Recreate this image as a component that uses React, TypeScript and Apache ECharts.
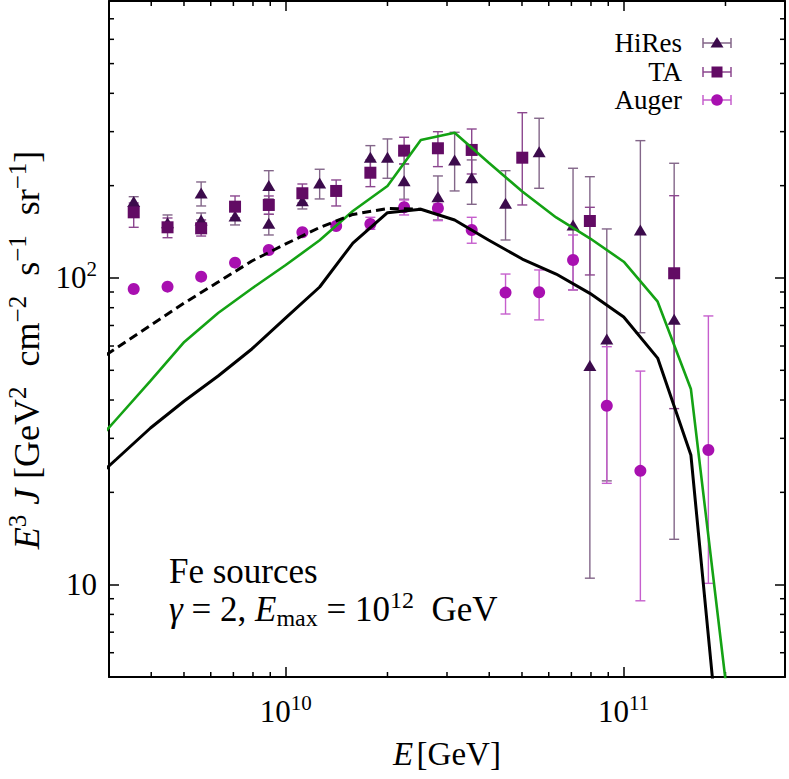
import React, { useEffect, useRef } from "react";
import * as echarts from "echarts";

// ---- axis ranges ----
const xMin = 3e9;
const xMax = 3e11;
const yMin = 5;
const yMax = 800;

// ---- minor tick positions (log axes) ----
const xMinorTicks = [4e9, 5e9, 6e9, 7e9, 8e9, 9e9, 2e10, 3e10, 4e10, 5e10, 6e10, 7e10, 8e10, 9e10, 2e11];
const yMinorTicks = [6, 7, 8, 9, 20, 30, 40, 50, 60, 70, 80, 90, 200, 300, 400, 500, 600, 700];

// ---- HiRes data (E in GeV, E^3 J) ----
const hiresE = [3.55e9, 4.47e9, 5.62e9, 5.62e9, 7.08e9, 8.91e9, 8.91e9, 1.12e10, 1.26e10, 1.78e10, 2.0e10, 2.24e10, 2.82e10, 3.16e10, 3.55e10, 4.47e10, 5.62e10, 7.08e10, 7.94e10, 8.91e10, 1.12e11, 1.41e11];
const hiresJ = [177.4, 151.4, 189.3, 154.6, 159.3, 200.3, 150.7, 178.7, 204.0, 247.5, 247.5, 207.6, 184.1, 242.6, 212.3, 175.2, 258.1, 148.9, 51.8, 63.3, 143.4, 73.3];
const hiresLo = [170.4, 143.4, 171.7, 146.7, 148.9, 181.0, 138.1, 167.9, 181.0, 225.0, 211.4, 180.6, 154.6, 192.2, 173.9, 133.0, 196.1, 91.4, 10.5, 21.8, 66.3, 14.06];
const hiresHi = [184.1, 160.5, 205.6, 162.9, 170.4, 223.8, 161.3, 190.8, 226.2, 270.1, 284.0, 235.4, 215.1, 298.6, 242.6, 223.8, 331.7, 227.9, 213.9, 144.5, 280.4, 236.6];

// ---- TA data ----
const taE = [3.55e9, 4.47e9, 5.62e9, 7.08e9, 8.91e9, 1.12e10, 1.41e10, 1.78e10, 2.24e10, 2.82e10, 3.55e10, 5.01e10, 7.94e10, 1.41e11];
const taJ = [163.7, 146.3, 145.2, 170.8, 173.0, 188.9, 192.2, 220.4, 260.1, 264.8, 261.5, 246.7, 153.4, 103.6];
const taLo = [146.3, 135.3, 137.0, 156.9, 161.3, 175.6, 171.7, 198.5, 235.4, 230.7, 218.3, 173.0, 102.3, 37.5];
const taHi = [175.6, 156.9, 154.6, 185.1, 185.1, 202.5, 208.7, 242.6, 287.6, 299.9, 306.0, 345.9, 170.0, 185.5];

// ---- Auger data ----
const augerE = [3.55e9, 4.47e9, 5.62e9, 7.08e9, 8.91e9, 1.12e10, 1.41e10, 1.78e10, 2.24e10, 2.82e10, 3.55e10, 4.47e10, 5.62e10, 7.08e10, 8.91e10, 1.12e11, 1.78e11];
const augerJ = [92.1, 93.7, 101.0, 112.2, 123.4, 140.9, 147.7, 150.0, 170.0, 168.7, 143.4, 89.6, 89.8, 114.5, 38.3, 23.5, 27.5];
const augerLo = [90.6, 92.2, 99.5, 110.5, 121.5, 138.8, 145.2, 144.1, 160.5, 153.8, 129.8, 76.3, 73.0, 91.4, 21.4, 8.86, 10.1];
const augerHi = [93.6, 95.2, 102.5, 113.9, 125.3, 143.0, 150.2, 157.7, 179.6, 174.3, 157.7, 103.0, 106.2, 138.1, 59.7, 49.7, 75.2];

// ---- model curves ----
const modelE = [2.51e9, 3.16e9, 3.98e9, 5.01e9, 6.31e9, 7.94e9, 1.0e10, 1.26e10, 1.58e10, 2.0e10, 2.51e10, 3.16e10, 3.98e10, 5.01e10, 6.31e10, 7.94e10, 1.0e11, 1.26e11, 1.58e11, 2.0e11];
const modelBlack = [20.4, 25.69, 32.42, 39.72, 47.91, 58.68, 74.07, 93.46, 130.0, 163.3, 167.5, 154.6, 133.0, 115.3, 103.0, 89.1, 74.6, 54.8, 26.48, 1.8];
const modelGreen = [26.09, 34.69, 46.15, 61.85, 76.9, 92.4, 110.2, 132.7, 165.4, 199.5, 281.8, 297.7, 237.9, 191.4, 157.5, 134.7, 113.0, 83.7, 43.47, 4.89];
const dashedE = [2.51e9, 3.16e9, 3.98e9, 5.01e9, 6.31e9, 7.94e9, 1.0e10, 1.26e10, 1.58e10, 2.0e10, 2.51e10];
const modelDashed = [50.1, 59.1, 70.0, 82.9, 97.0, 113.6, 129.1, 146.1, 161.1, 168.5, 167.5];

// ---- labels ----
const legendNames = ["HiRes", "TA", "Auger"];

const FONT = "Liberation Serif";

const C_HIRES = "#3c0b4c";
const C_HIRES_BAR = "#836689";
const C_TA = "#620b64";
const C_TA_BAR = "#8c478f";
const C_AUGER = "#a810b0";
const C_AUGER_BAR = "#c65fcd";
const C_GREEN = "#14a214";

const tickRich = {
  b: { fontFamily: FONT, fontSize: 31, lineHeight: 38, color: "#000" },
  s: { fontFamily: FONT, fontSize: 21, lineHeight: 26, verticalAlign: "top", color: "#000" },
};

const xNameRich = {
  b: { fontFamily: FONT, fontSize: 33, lineHeight: 40, color: "#000" },
  i: { fontFamily: FONT, fontSize: 33, lineHeight: 40, fontStyle: "italic", color: "#000" },
};

const yNameRich = {
  b: { fontFamily: FONT, fontSize: 36, lineHeight: 44, color: "#000" },
  i: { fontFamily: FONT, fontSize: 36, lineHeight: 44, fontStyle: "italic", color: "#000" },
  s: { fontFamily: FONT, fontSize: 25, lineHeight: 30, verticalAlign: "top", color: "#000" },
  g: { fontFamily: FONT, fontSize: 36, lineHeight: 44, width: 20, color: "#000" },
  h: { fontFamily: FONT, fontSize: 36, lineHeight: 44, width: 10, color: "#000" },
};

const annRich = {
  b: { fontFamily: FONT, fontSize: 35, lineHeight: 42, color: "#000" },
  i: { fontFamily: FONT, fontSize: 35, lineHeight: 42, fontStyle: "italic", color: "#000" },
  s: { fontFamily: FONT, fontSize: 24, lineHeight: 28, verticalAlign: "top", color: "#000" },
  d: { fontFamily: FONT, fontSize: 24, lineHeight: 32, verticalAlign: "bottom", color: "#000" },
};

function powLabel(v: number, showBase10: boolean) {
  const lg = Math.log10(v);
  const e = Math.round(lg);
  if (Math.abs(lg - e) > 1e-6) return "";
  if (e === 1 && showBase10) return "{b|10}";
  return "{b|10}{s|" + e + "}";
}

function errorSeries(E: number[], lo: number[], hi: number[], color: string) {
  return {
    type: "custom",
    silent: true,
    xAxisIndex: 0,
    yAxisIndex: 0,
    encode: { x: 0, y: [1, 2] },
    data: E.map((e, i) => [e, lo[i], hi[i]]),
    renderItem: (_params: any, api: any) => {
      const x = api.value(0);
      const p1 = api.coord([x, api.value(1)]);
      const p2 = api.coord([x, api.value(2)]);
      const w = 5;
      const st = { stroke: color, lineWidth: 1.4, fill: "none" };
      return {
        type: "group",
        children: [
          { type: "line", shape: { x1: p1[0], y1: p1[1], x2: p2[0], y2: p2[1] }, style: st },
          { type: "line", shape: { x1: p1[0] - w, y1: p1[1], x2: p1[0] + w, y2: p1[1] }, style: st },
          { type: "line", shape: { x1: p2[0] - w, y1: p2[1], x2: p2[0] + w, y2: p2[1] }, style: st },
        ],
      };
    },
  };
}

function legendGraphic() {
  const rows = [
    { y: 43, color: C_HIRES, bar: C_HIRES_BAR, shape: "triangle" },
    { y: 72, color: C_TA, bar: C_TA_BAR, shape: "rect" },
    { y: 100, color: C_AUGER, bar: C_AUGER_BAR, shape: "circle" },
  ];
  const out: any[] = [];
  rows.forEach((r, i) => {
    out.push({
      type: "text",
      x: 682,
      y: r.y,
      z: 100,
      style: { text: legendNames[i], fontFamily: FONT, fontSize: 27, fill: "#000", align: "right", verticalAlign: "middle" },
    });
    const st = { stroke: r.bar, lineWidth: 1.5 };
    out.push({ type: "line", z: 100, shape: { x1: 703, y1: r.y, x2: 731, y2: r.y }, style: st });
    out.push({ type: "line", z: 100, shape: { x1: 703, y1: r.y - 5, x2: 703, y2: r.y + 5 }, style: st });
    out.push({ type: "line", z: 100, shape: { x1: 731, y1: r.y - 5, x2: 731, y2: r.y + 5 }, style: st });
    if (r.shape === "triangle") {
      out.push({ type: "polygon", z: 101, shape: { points: [[717, r.y - 6], [723.5, r.y + 4.5], [710.5, r.y + 4.5]] }, style: { fill: r.color } });
    } else if (r.shape === "rect") {
      out.push({ type: "rect", z: 101, shape: { x: 711.5, y: r.y - 5.5, width: 11, height: 11 }, style: { fill: r.color } });
    } else {
      out.push({ type: "circle", z: 101, shape: { cx: 717, cy: r.y, r: 5.8 }, style: { fill: r.color } });
    }
  });
  return out;
}

function buildOption() {
  const axisLine = { onZero: false, lineStyle: { color: "#000", width: 2 } };
  const axisTick = { inside: true, length: 10, lineStyle: { color: "#000", width: 1.5 } };
  return {
    animation: false,
    backgroundColor: "#fff",
    grid: { left: 109, right: 4, top: 1, bottom: 102, containLabel: false, outerBoundsMode: "none" },
    xAxis: [
      {
        type: "log",
        logBase: 10,
        min: xMin,
        max: xMax,
        position: "bottom",
        axisLine,
        axisTick,
        splitLine: { show: false },
        axisLabel: {
          margin: 15,
          showMinLabel: false,
          showMaxLabel: false,
          formatter: (v: number) => powLabel(v, false),
          rich: tickRich,
        },
        name: "{i|E} {b|[GeV]}",
        nameLocation: "middle",
        nameGap: 57,
        nameTextStyle: { rich: xNameRich },
      },
      {
        type: "log",
        logBase: 10,
        min: xMin,
        max: xMax,
        position: "top",
        axisLine,
        axisTick,
        splitLine: { show: false },
        axisLabel: { show: false },
      },
    ],
    yAxis: [
      {
        type: "log",
        logBase: 10,
        min: yMin,
        max: yMax,
        position: "left",
        axisLine,
        axisTick,
        splitLine: { show: false },
        axisLabel: {
          margin: 12,
          showMinLabel: false,
          showMaxLabel: false,
          formatter: (v: number) => powLabel(v, true),
          rich: tickRich,
        },
        name: "{i|E}{s|3}{h| }{i|J}{h| }{b|[GeV}{s|2}{g| }{b|cm}{s|−2}{g| }{b|s}{s|−1}{g| }{b|sr}{s|−1}{b|]}",
        nameLocation: "middle",
        nameRotate: 90,
        nameGap: 56,
        nameTextStyle: { rich: yNameRich, padding: [0, 22, 0, 0] },
      },
      {
        type: "log",
        logBase: 10,
        min: yMin,
        max: yMax,
        position: "right",
        axisLine,
        axisTick,
        splitLine: { show: false },
        axisLabel: { show: false },
      },
    ],
    graphic: [
      {
        type: "text",
        x: 169,
        y: 571,
        z: 100,
        style: { text: "{b|Fe sources}", rich: annRich, verticalAlign: "middle", align: "left" },
      },
      {
        type: "text",
        x: 169,
        y: 609,
        z: 100,
        style: {
          text: "{i|γ}{b| = 2, }{i|E}{d|max}{b| = 10}{s|12}{b|  GeV}",
          rich: annRich,
          verticalAlign: "middle",
          align: "left",
        },
      },
      ...legendGraphic(),
    ],
    series: [
      {
        type: "custom",
        silent: true,
        xAxisIndex: 0,
        yAxisIndex: 0,
        encode: { x: 0, y: 1 },
        data: xMinorTicks.map((v) => [v, yMin]),
        renderItem: (params: any, api: any) => {
          const cs = params.coordSys;
          const p = api.coord([api.value(0), yMin]);
          const st = { stroke: "#000", lineWidth: 1.5 };
          return {
            type: "group",
            children: [
              { type: "line", shape: { x1: p[0], y1: cs.y + cs.height, x2: p[0], y2: cs.y + cs.height - 5 }, style: st },
              { type: "line", shape: { x1: p[0], y1: cs.y, x2: p[0], y2: cs.y + 5 }, style: st },
            ],
          };
        },
      },
      {
        type: "custom",
        silent: true,
        xAxisIndex: 0,
        yAxisIndex: 0,
        encode: { x: 0, y: 1 },
        data: yMinorTicks.map((v) => [xMin, v]),
        renderItem: (params: any, api: any) => {
          const cs = params.coordSys;
          const p = api.coord([xMin, api.value(1)]);
          const st = { stroke: "#000", lineWidth: 1.5 };
          return {
            type: "group",
            children: [
              { type: "line", shape: { x1: cs.x, y1: p[1], x2: cs.x + 5, y2: p[1] }, style: st },
              { type: "line", shape: { x1: cs.x + cs.width, y1: p[1], x2: cs.x + cs.width - 5, y2: p[1] }, style: st },
            ],
          };
        },
      },
      {
        type: "line",
        name: "green",
        silent: true,
        showSymbol: false,
        symbol: "none",
        data: modelE.map((e, i) => [e, modelGreen[i]]),
        lineStyle: { color: C_GREEN, width: 2.6 },
      },
      {
        type: "line",
        name: "dashed",
        silent: true,
        showSymbol: false,
        symbol: "none",
        data: dashedE.map((e, i) => [e, modelDashed[i]]),
        lineStyle: { color: "#000", width: 3, type: [9, 5] },
      },
      {
        type: "line",
        name: "solid",
        silent: true,
        showSymbol: false,
        symbol: "none",
        data: modelE.map((e, i) => [e, modelBlack[i]]),
        lineStyle: { color: "#000", width: 3 },
      },
      errorSeries(hiresE, hiresLo, hiresHi, C_HIRES_BAR),
      {
        type: "scatter",
        name: "HiRes",
        silent: true,
        symbol: "triangle",
        symbolSize: [13, 11],
        itemStyle: { color: C_HIRES, opacity: 1 },
        data: hiresE.map((e, i) => [e, hiresJ[i]]),
      },
      errorSeries(taE, taLo, taHi, C_TA_BAR),
      {
        type: "scatter",
        name: "TA",
        silent: true,
        symbol: "rect",
        symbolSize: 12,
        itemStyle: { color: C_TA, opacity: 1 },
        data: taE.map((e, i) => [e, taJ[i]]),
      },
      errorSeries(augerE, augerLo, augerHi, C_AUGER_BAR),
      {
        type: "scatter",
        name: "Auger",
        silent: true,
        symbol: "circle",
        symbolSize: 12,
        itemStyle: { color: C_AUGER, opacity: 1 },
        data: augerE.map((e, i) => [e, augerJ[i]]),
      },
    ],
  };
}

export default function App() {
  const ref = useRef<HTMLDivElement>(null);
  useEffect(() => {
    if (!ref.current) return;
    const chart = echarts.init(ref.current, null, { renderer: "svg" });
    chart.setOption(buildOption() as any);
    return () => chart.dispose();
  }, []);
  return (
    <div
      ref={ref}
      style={{ position: "absolute", left: 0, top: 0, width: 789, height: 779, background: "#fff" }}
    />
  );
}
